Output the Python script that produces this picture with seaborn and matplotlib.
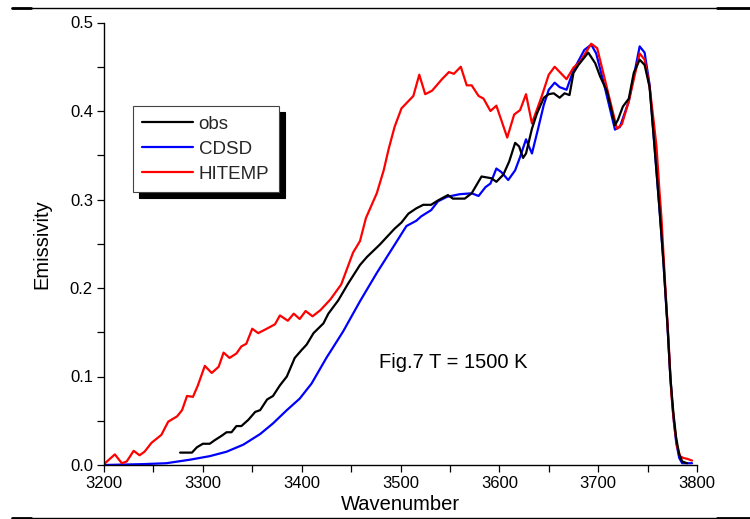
import numpy as np
import pandas as pd
import matplotlib
matplotlib.use("Agg")
import matplotlib.pyplot as plt
from matplotlib.lines import Line2D
from matplotlib.ticker import MultipleLocator
import seaborn as sns

# ---- data ----
obs_x = [3277, 3289, 3294, 3300, 3307, 3312, 3319, 3324, 3329, 3334, 3339, 3346, 3353, 3358,
         3365, 3371, 3378, 3385, 3393, 3400, 3405, 3412, 3422, 3427, 3437, 3447, 3459, 3466,
         3479, 3494, 3501, 3508, 3516, 3523, 3531, 3538, 3548, 3553, 3565, 3572, 3582, 3592,
         3597, 3604, 3610, 3616, 3620, 3624, 3627, 3633, 3638, 3645, 3650, 3655, 3661, 3666,
         3671, 3675, 3680, 3690, 3697, 3702, 3709, 3717, 3720, 3725, 3731, 3736, 3742, 3747,
         3752, 3757, 3762, 3766, 3770, 3773, 3776, 3779, 3782, 3785, 3790]
obs_y = [0.014, 0.014, 0.020, 0.024, 0.024, 0.028, 0.033, 0.037, 0.037, 0.044, 0.044, 0.051,
         0.060, 0.062, 0.074, 0.078, 0.090, 0.100, 0.121, 0.130, 0.136, 0.149, 0.160, 0.171,
         0.186, 0.205, 0.226, 0.235, 0.249, 0.267, 0.274, 0.284, 0.290, 0.294, 0.294, 0.299,
         0.305, 0.301, 0.301, 0.307, 0.326, 0.324, 0.320, 0.328, 0.343, 0.364, 0.360, 0.347,
         0.352, 0.380, 0.397, 0.415, 0.419, 0.420, 0.415, 0.420, 0.418, 0.443, 0.452, 0.466,
         0.454, 0.439, 0.422, 0.384, 0.390, 0.405, 0.414, 0.443, 0.458, 0.452, 0.427, 0.360,
         0.290, 0.230, 0.160, 0.100, 0.060, 0.030, 0.012, 0.004, 0.002]

cdsd_x = [3200, 3220, 3240, 3263, 3287, 3307, 3324, 3341, 3358, 3371, 3385, 3398, 3410, 3425,
          3442, 3459, 3476, 3493, 3506, 3516, 3521, 3531, 3538, 3547, 3560, 3572, 3579, 3586,
          3591, 3597, 3602, 3609, 3616, 3621, 3627, 3633, 3639, 3645, 3650, 3656, 3661, 3668,
          3675, 3686, 3693, 3698, 3706, 3717, 3722, 3731, 3742, 3747, 3752, 3757, 3762, 3766,
          3770, 3773, 3776, 3779, 3782, 3785, 3795]
cdsd_y = [0.0, 0.0005, 0.001, 0.002, 0.006, 0.010, 0.015, 0.023, 0.035, 0.047, 0.062, 0.075,
          0.092, 0.121, 0.151, 0.185, 0.217, 0.247, 0.270, 0.276, 0.281, 0.288, 0.298, 0.303,
          0.306, 0.307, 0.304, 0.314, 0.318, 0.335, 0.331, 0.322, 0.333, 0.348, 0.368, 0.352,
          0.379, 0.407, 0.424, 0.432, 0.427, 0.424, 0.446, 0.469, 0.475, 0.465, 0.430, 0.379,
          0.382, 0.411, 0.473, 0.466, 0.430, 0.360, 0.290, 0.230, 0.160, 0.100, 0.055, 0.025,
          0.008, 0.002, 0.002]

hitemp_x = [3200, 3211, 3218, 3223, 3230, 3236, 3241, 3248, 3258, 3265, 3274, 3279, 3284, 3290,
            3295, 3302, 3309, 3316, 3321, 3327, 3334, 3339, 3344, 3350, 3356, 3363, 3368, 3373,
            3378, 3386, 3392, 3398, 3404, 3411, 3419, 3429, 3440, 3452, 3459, 3465, 3476, 3483,
            3488, 3494, 3501, 3513, 3519, 3525, 3532, 3542, 3549, 3554, 3561, 3567, 3572, 3579,
            3584, 3591, 3597, 3608, 3615, 3621, 3627, 3633, 3643, 3650, 3656, 3668, 3675, 3682,
            3693, 3699, 3719, 3724, 3731, 3742, 3747, 3752, 3756, 3759, 3762, 3764, 3768, 3771,
            3774, 3777, 3780, 3783, 3786, 3790, 3795]
hitemp_y = [0.001, 0.012, 0.002, 0.004, 0.016, 0.011, 0.015, 0.025, 0.034, 0.049, 0.055, 0.062,
            0.078, 0.077, 0.090, 0.112, 0.104, 0.111, 0.127, 0.121, 0.126, 0.134, 0.137, 0.154,
            0.149, 0.153, 0.156, 0.159, 0.169, 0.163, 0.171, 0.165, 0.174, 0.168, 0.175, 0.187,
            0.204, 0.240, 0.253, 0.279, 0.307, 0.333, 0.357, 0.382, 0.403, 0.417, 0.441, 0.419,
            0.423, 0.436, 0.444, 0.442, 0.450, 0.429, 0.429, 0.417, 0.414, 0.400, 0.406, 0.370,
            0.396, 0.401, 0.419, 0.386, 0.417, 0.441, 0.450, 0.436, 0.449, 0.456, 0.476, 0.471,
            0.380, 0.385, 0.411, 0.465, 0.458, 0.428, 0.390, 0.360, 0.310, 0.280, 0.200, 0.145,
            0.081, 0.045, 0.020, 0.010, 0.008, 0.007, 0.005]

series_names = ["obs", "CDSD", "HITEMP"]
series_colors = {"obs": "#000000", "CDSD": "#0000ff", "HITEMP": "#ff0000"}

x_ticks = [3200, 3300, 3400, 3500, 3600, 3700, 3800]
y_ticks = [0.0, 0.1, 0.2, 0.3, 0.4, 0.5]

# ---- styling ----
sns.set_theme(style="ticks")
plt.rcParams["font.family"] = ["Liberation Sans", "DejaVu Sans"]

fig = plt.figure(figsize=(7.5, 5.19), dpi=100)
ax = fig.add_axes([104 / 750, 1 - 465 / 519, (697 - 104) / 750, (465 - 22.5) / 519])

frames = {
    "obs": pd.DataFrame({"Wavenumber": obs_x, "Emissivity": obs_y}),
    "CDSD": pd.DataFrame({"Wavenumber": cdsd_x, "Emissivity": cdsd_y}),
    "HITEMP": pd.DataFrame({"Wavenumber": hitemp_x, "Emissivity": hitemp_y}),
}

for name in ["CDSD", "HITEMP", "obs"]:
    sns.lineplot(data=frames[name], x="Wavenumber", y="Emissivity", ax=ax,
                 color=series_colors[name], linewidth=1.6, label=name,
                 estimator=None, sort=False)

ax.set_xlim(3200, 3800)
ax.set_ylim(0, 0.5)
ax.set_xticks(x_ticks)
ax.set_yticks(y_ticks)
ax.set_yticklabels([f"{v:.1f}" for v in y_ticks])
ax.xaxis.set_minor_locator(MultipleLocator(50))
ax.yaxis.set_minor_locator(MultipleLocator(0.05))
ax.tick_params(which="both", direction="out", length=5, width=0.9, color="black",
               labelsize=12, labelcolor="black", pad=3)
for side in ["top", "right"]:
    ax.spines[side].set_visible(False)
for side in ["left", "bottom"]:
    ax.spines[side].set_color("black")
    ax.spines[side].set_linewidth(1.0)

ax.set_xlabel("Wavenumber", fontsize=14.5, labelpad=3, color="black")
ax.set_ylabel("Emissivity", fontsize=14.5, labelpad=13, color="black")

ax.text(3553, 0.116, "Fig.7 T = 1500 K", fontsize=14.5, ha="center", va="center", color="black")

handles, labels = ax.get_legend_handles_labels()
order = [labels.index(n) for n in series_names]
leg = ax.legend([handles[i] for i in order], [labels[i] for i in order],
                loc="upper left", bbox_to_anchor=(0.049, 0.811),
                fontsize=13.5, frameon=True, fancybox=False, framealpha=1,
                edgecolor="#444444", handlelength=2.7, handletextpad=0.3,
                labelspacing=0.42, borderpad=0.5, borderaxespad=0,
                shadow={"color": "black", "alpha": 1, "ox": 4.5, "oy": -4.5})
leg.get_frame().set_linewidth(0.8)

# page-border lines
for yf in [1 - 8.3 / 519, 1.5 / 519]:
    fig.add_artist(Line2D([12 / 750, 1.0], [yf, yf], color="black", lw=1.0,
                          transform=fig.transFigure))
    fig.add_artist(Line2D([12 / 750, 31 / 750], [yf, yf], color="black", lw=2.0,
                          transform=fig.transFigure))
    fig.add_artist(Line2D([717 / 750, 1.0], [yf, yf], color="black", lw=2.0,
                          transform=fig.transFigure))

fig.savefig("out.png", dpi=100, facecolor="white")
